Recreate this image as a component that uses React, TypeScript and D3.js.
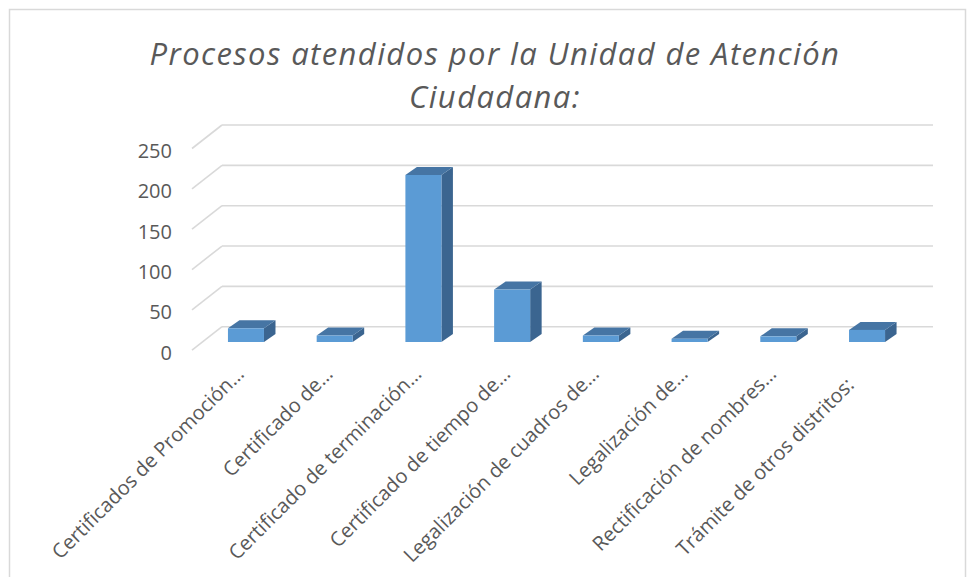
import React from "react";
import * as d3 from "d3";

const categories = [
  "Certificados de Promoción…",
  "Certificado de…",
  "Certificado de terminación…",
  "Certificado de tiempo de…",
  "Legalización de cuadros de…",
  "Legalización de…",
  "Rectificación de nombres…",
  "Trámite de otros distritos:\u00A0\u00A0\u00A0",
];
const values = [17, 8, 207, 65, 8, 4, 7, 15];
const yTicks = [0, 50, 100, 150, 200, 250];
const titleLines = ["Procesos atendidos por la Unidad de Atención", "Ciudadana:"];

const W = 970;
const H = 577;
const FONT = "'Open Sans', 'DejaVu Sans', sans-serif";
const TEXT = "#595959";

export default function App() {
  // back wall
  const backLeft = 222;
  const backRight = 933;
  const yBack = d3.scaleLinear().domain([0, 250]).range([326.7, 125]);
  const diagDx = -30;
  const diagDy = 23.5;

  // bars front face
  const pxPerUnit = (yBack(0) - yBack(250)) / 250;
  const barBase = 342;
  const yBar = d3.scaleLinear().domain([0, 250]).range([barBase, barBase - 250 * pxPerUnit]);
  const x = d3
    .scaleBand<string>()
    .domain(categories)
    .range([201.6, 911.4])
    .paddingInner(0.594)
    .paddingOuter(0.297);
  const depthDx = 11.5;
  const depthDy = -8;

  return (
    <svg
      width={W}
      height={H}
      style={{ position: "absolute", left: 0, top: 0, background: "#fff" }}
    >
      <rect x={0} y={0} width={W} height={H} fill="#fff" />
      <rect x={9.5} y={9.5} width={956} height={620} fill="none" stroke="#D9D9D9" strokeWidth={1.5} />

      {/* title */}
      {titleLines.map((line, i) => (
        <text
          key={i}
          x={495}
          y={65 + i * 43}
          textAnchor="middle"
          fontFamily={FONT}
          fontStyle="italic"
          fontSize={31}
          letterSpacing={1.4}
          fill={TEXT}
        >
          {line}
        </text>
      ))}

      {/* gridlines */}
      {yTicks.map((t) => (
        <g key={t}>
          <line
            x1={backLeft}
            x2={backRight}
            y1={yBack(t)}
            y2={yBack(t)}
            stroke="#D9D9D9"
            strokeWidth={1.6}
          />
          <line
            x1={backLeft}
            y1={yBack(t)}
            x2={backLeft + diagDx}
            y2={yBack(t) + diagDy}
            stroke="#D9D9D9"
            strokeWidth={1.6}
          />
          <text
            x={172}
            y={yBack(t) + diagDy + 2}
            textAnchor="end"
            dominantBaseline="central"
            fontFamily={FONT}
            fontSize={20}
            fill={TEXT}
          >
            {t}
          </text>
        </g>
      ))}

      {/* bars */}
      {categories.map((c, i) => {
        const x0 = x(c)!;
        const x1 = x0 + x.bandwidth();
        const top = yBar(values[i]);
        const bot = yBar(0);
        const topFace = `M${x0},${top}L${x1},${top}L${x1 + depthDx},${top + depthDy}L${x0 + depthDx},${top + depthDy}Z`;
        const sideFace = `M${x1},${top}L${x1 + depthDx},${top + depthDy}L${x1 + depthDx},${bot + depthDy}L${x1},${bot}Z`;
        return (
          <g key={c}>
            <path d={sideFace} fill="#3B6590" />
            <path d={topFace} fill="#4675A4" />
            <rect x={x0} y={top} width={x1 - x0} height={bot - top} fill="#5B9BD5" />
          </g>
        );
      })}

      {/* category labels */}
      {categories.map((c) => {
        const cx = x(c)! + x.bandwidth() / 2;
        return (
          <text
            key={c}
            transform={`translate(${cx - 6},${370}) rotate(-45)`}
            textAnchor="end"
            dominantBaseline="central"
            fontFamily={FONT}
            fontSize={20}
            fill={TEXT}
            style={{ whiteSpace: "pre" }}
          >
            {c}
          </text>
        );
      })}
    </svg>
  );
}
